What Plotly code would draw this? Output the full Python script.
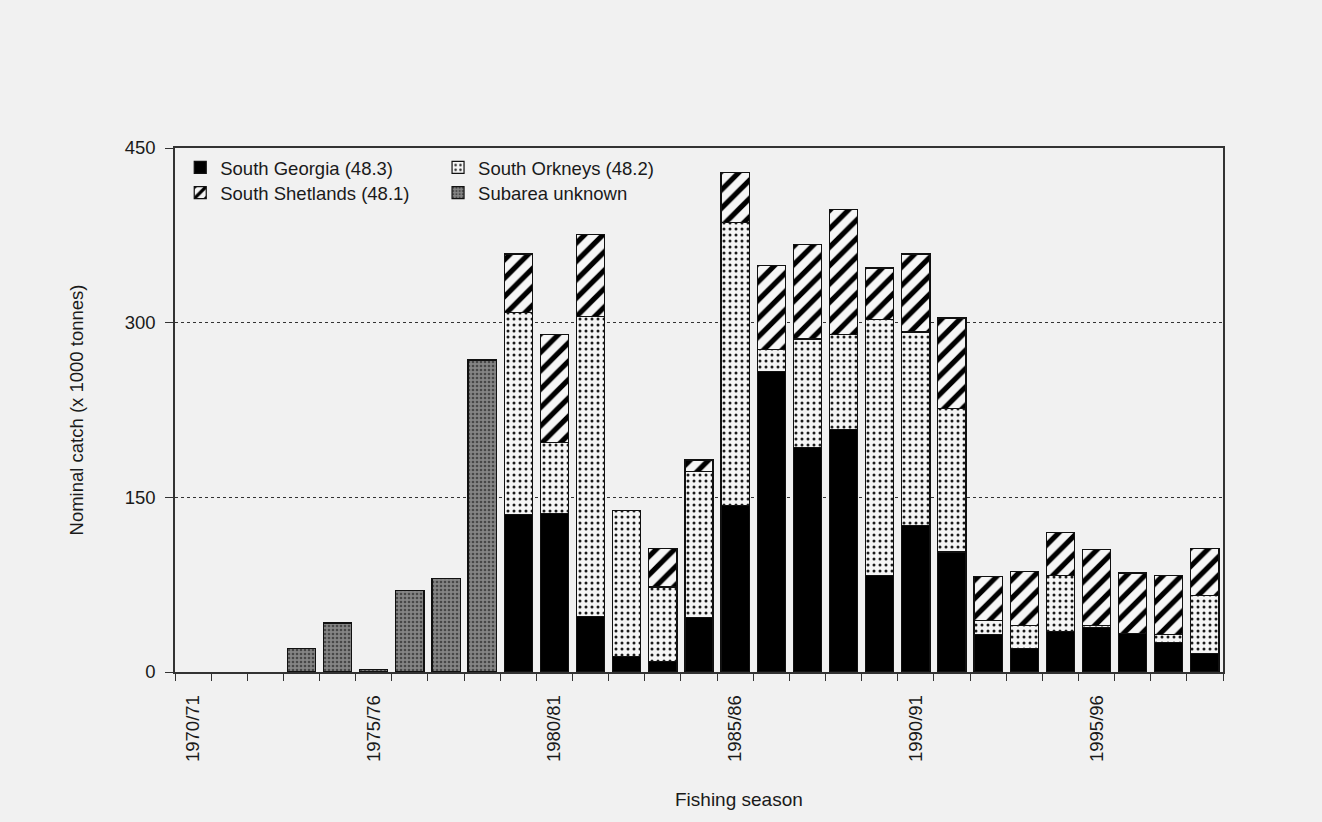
import plotly.graph_objects as go

seasons = [f"{y}/{(y + 1) % 100:02d}" for y in range(1970, 1999)]

# Catch by subarea, thousand tonnes (None = no catch reported)
subarea_unknown = [None, None, None, 20, 42, 2, 70, 80, 268] + [None] * 20
south_georgia = [None] * 9 + [135, 136, 48, 13, 9, 47, 143, 258, 193, 208,
                              83, 126, 103, 32, 20, 35, 38, 33, 25, 16]
south_orkneys = [None] * 9 + [174, 61, 257, 126, 64, 125, 243, 19, 93, 82,
                              220, 166, 123, 12, 20, 48, 2, 0, 7, 50]
south_shetlands = [None] * 9 + [50, 93, 71, 0, 33, 10, 43, 72, 81, 107,
                                44, 67, 78, 38, 46, 37, 65, 52, 51, 40]

label_every = ["1970/71", "1975/76", "1980/81", "1985/86", "1990/91", "1995/96"]
y_ticks = [0, 150, 300, 450]

FONT = "Liberation Sans, Arial, sans-serif"
FS = 18.5
PAPER = "#f1f1f1"
INK = "#1a1a1a"
outline = dict(color="#111111", width=1.2)

fig = go.Figure()

fig.add_trace(go.Bar(
    x=seasons, y=subarea_unknown, name="Subarea unknown", legend="legend4",
    showlegend=True,
    marker=dict(color="#7a7a7a", line=outline,
                pattern=dict(shape=".", fgcolor="#484848", bgcolor="#858585",
                             fgopacity=1, size=4, solidity=0.35)),
))
fig.add_trace(go.Bar(
    x=seasons, y=south_georgia, name="South Georgia (48.3)", legend="legend",
    showlegend=True,
    marker=dict(color="#000000", line=outline),
))
fig.add_trace(go.Bar(
    x=seasons, y=south_orkneys, name="South Orkneys (48.2)", legend="legend2",
    showlegend=True,
    marker=dict(color="#ffffff", line=outline,
                pattern=dict(shape=".", fgcolor="#1a1a1a", bgcolor="#f5f5f5",
                             fgopacity=1, size=6, solidity=0.2)),
))
fig.add_trace(go.Bar(
    x=seasons, y=south_shetlands, name="South Shetlands (48.1)", legend="legend3",
    showlegend=True,
    marker=dict(color="#ffffff", line=outline,
                pattern=dict(shape="/", fgcolor="#000000", bgcolor="#f6f6f6",
                             fgopacity=1, size=13, solidity=0.4)),
))

legend_common = dict(bgcolor="rgba(0,0,0,0)", borderwidth=0, visible=True,
                     font=dict(family=FONT, size=FS, color=INK),
                     xanchor="left", yanchor="middle", itemwidth=30)
fig.update_layout(
    showlegend=True,
    legend=dict(x=0.005, y=0.962, **legend_common),
    legend2=dict(x=0.251, y=0.962, **legend_common),
    legend3=dict(x=0.005, y=0.914, **legend_common),
    legend4=dict(x=0.251, y=0.914, **legend_common),
)

tick_text = [s if s in label_every else "" for s in seasons]

fig.update_layout(
    barmode="stack",
    bargap=0.22,
    width=1322, height=822,
    margin=dict(l=175, r=99, t=148, b=150),
    paper_bgcolor=PAPER,
    plot_bgcolor=PAPER,
    font=dict(family=FONT, size=FS, color=INK),
    xaxis=dict(
        type="category",
        categoryorder="array", categoryarray=seasons,
        tickmode="array", tickvals=seasons, ticktext=tick_text,
        tickson="boundaries", ticks="outside", ticklen=7, tickcolor="#333333",
        tickangle=-90, ticklabelstandoff=14,
        tickfont=dict(family=FONT, size=FS, color=INK),
        showline=True, linecolor="#333333", linewidth=1.5, mirror=True,
        showgrid=False,
        range=[-0.5, 28.5],
    ),
    yaxis=dict(
        range=[0, 450],
        tickmode="array", tickvals=y_ticks,
        ticks="outside", ticklen=8, tickcolor="#333333", ticklabelstandoff=6,
        tickfont=dict(family=FONT, size=FS, color=INK),
        showline=True, linecolor="#333333", linewidth=1.5, mirror=True,
        showgrid=True, gridcolor="#333333", griddash="dot", gridwidth=1.3,
        zeroline=False,
        title=dict(text="Nominal catch (x 1000 tonnes)", standoff=36,
                   font=dict(family=FONT, size=FS, color=INK)),
    ),
)

# x-axis title, set slightly right of the plot centre
fig.add_annotation(
    text="Fishing season", xref="paper", yref="paper",
    x=0.538, y=-0.244, xanchor="center", yanchor="middle",
    showarrow=False, font=dict(family=FONT, size=19, color=INK),
)

fig.write_html("out.html")
